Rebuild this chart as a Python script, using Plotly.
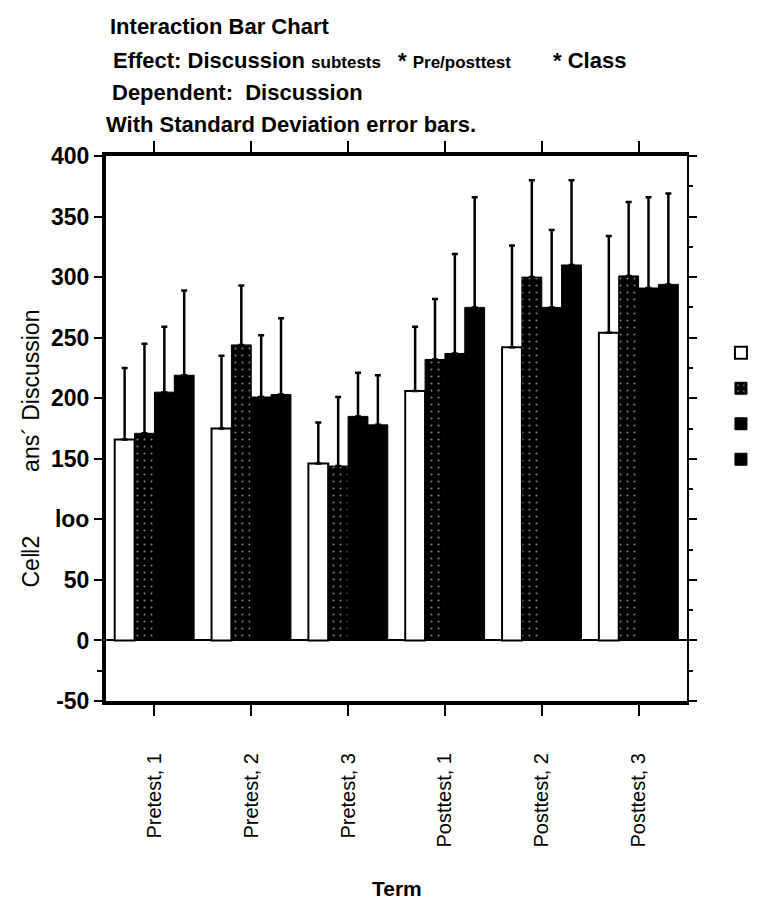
import plotly.graph_objects as go

# Interaction bar chart: Discussion subtests * Pre/posttest * Class
terms = ["Pretest, 1", "Pretest, 2", "Pretest, 3", "Posttest, 1", "Posttest, 2", "Posttest, 3"]

# cell means for the four discussion subtests
sub1_mean = [166, 175, 146, 206, 242, 254]
sub2_mean = [171, 244, 144, 232, 300, 301]
sub3_mean = [205, 201, 185, 237, 275, 291]
sub4_mean = [219, 203, 178, 275, 310, 294]

# standard deviations (drawn upward only)
sub1_sd = [59, 60, 34, 53, 84, 80]
sub2_sd = [74, 49, 57, 50, 80, 61]
sub3_sd = [54, 51, 36, 82, 64, 75]
sub4_sd = [70, 63, 41, 91, 70, 75]

y_ticks = [-50, 0, 50, 100, 150, 200, 250, 300, 350, 400]
y_tick_text = ["-50", "0", "50", "loo", "150", "200", "250", "300", "350", "400"]

FONT = "Liberation Sans, Arial, sans-serif"

# plot area in pixels (left, right, top, bottom)
L, R, T, B = 98, 714, 148, 693


def px(x):
    return (x - L) / (R - L)


def py(y):
    return (B - y) / (B - T)


fig = go.Figure()

series = [
    (sub1_mean, sub1_sd, dict(color="white", line=dict(color="black", width=2))),
    (sub2_mean, sub2_sd, dict(color="black", line=dict(color="black", width=1),
                              pattern=dict(shape=".", fgcolor="white", bgcolor="black",
                                           size=7, solidity=0.07))),
    (sub3_mean, sub3_sd, dict(color="black", line=dict(color="black", width=1))),
    (sub4_mean, sub4_sd, dict(color="black", line=dict(color="black", width=1))),
]

for mean, sd, marker in series:
    fig.add_trace(go.Bar(
        x=terms, y=mean, name=" ",
        marker=marker,
        error_y=dict(type="data", symmetric=False, array=sd, arrayminus=[0] * len(sd),
                     color="black", thickness=2.5, width=3),
    ))

# right-hand axis: thin line with ticks every 25
fig.add_trace(go.Scatter(x=[terms[0]], y=[None], yaxis="y2", showlegend=False, hoverinfo="skip"))

fig.update_layout(
    width=777, height=900,
    margin=dict(l=L, r=777 - R, t=T, b=900 - B),
    paper_bgcolor="white", plot_bgcolor="white",
    font=dict(family=FONT, color="black"),
    barmode="group", bargap=0.18, bargroupgap=0,
    xaxis=dict(
        showline=True, linecolor="black", linewidth=4, mirror="ticks",
        ticks="outside", ticklen=11, tickwidth=2, tickcolor="black",
        tickangle=-90, tickfont=dict(size=20, family=FONT),
        ticklabelstandoff=29, showgrid=False,
    ),
    yaxis=dict(
        range=[-50, 400], tickvals=y_ticks, ticktext=y_tick_text,
        showline=True, linecolor="black", linewidth=4,
        ticks="outside", ticklen=8, tickwidth=2, tickcolor="black",
        tickfont=dict(size=23, family=FONT, weight="bold"),
        showgrid=False, zeroline=True, zerolinecolor="black", zerolinewidth=2,
        minor=dict(tickvals=[-25], ticks="outside", ticklen=5, tickcolor="black"),
    ),
    yaxis2=dict(
        range=[-50, 400], overlaying="y", side="right",
        showline=True, linecolor="black", linewidth=2,
        ticks="outside", ticklen=8, tickwidth=2, tickcolor="black", dtick=50,
        showticklabels=False, showgrid=False, zeroline=False,
        minor=dict(dtick=25, ticks="outside", ticklen=4, tickcolor="black"),
    ),
    legend=dict(
        x=px(750), y=py(322), xanchor="left", yanchor="top",
        font=dict(size=25), bgcolor="rgba(0,0,0,0)", traceorder="normal",
    ),
    showlegend=True,
)

# heading lines
heading = [
    (100, 18, "Interaction Bar Chart"),
    (103, 52, "Effect: Discussion <span style='font-size:17px'>subtests</span>"),
    (405, 52, "* <span style='font-size:17px'>Pre/posttest</span>"),
    (570, 52, "* Class"),
    (102, 84, "Dependent:\u00a0 Discussion"),
    (96, 116, "With Standard Deviation error bars."),
]
for x0, y0, txt in heading:
    fig.add_annotation(x=px(x0), y=py(y0), xref="paper", yref="paper",
                       xanchor="left", yanchor="middle", showarrow=False,
                       text="<b>" + txt + "</b>", font=dict(size=22, family=FONT))

# axis titles
fig.add_annotation(x=px(19), y=py(440), xref="paper", yref="paper",
                   xanchor="center", yanchor="middle", showarrow=False, textangle=-90,
                   text="Ce\u20162" + "\u00a0" * 10 + "ans\u00b4 Discussion",
                   font=dict(size=23, family=FONT))
fig.add_annotation(x=px(406), y=py(880), xref="paper", yref="paper",
                   xanchor="center", yanchor="middle", showarrow=False,
                   text="<b>Term</b>", font=dict(size=21, family=FONT))

fig.write_html("out.html")
